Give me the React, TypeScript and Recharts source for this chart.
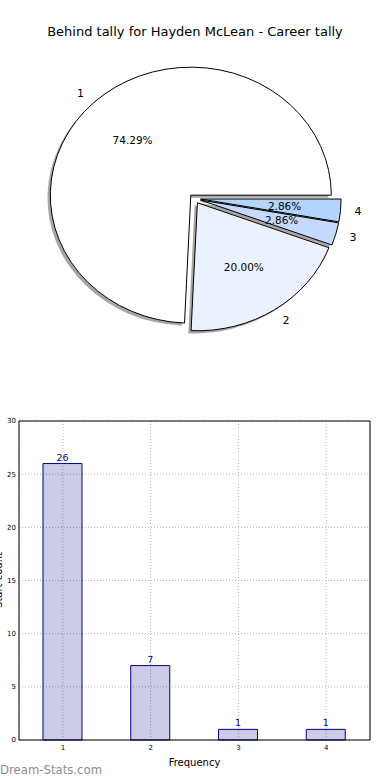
import React from "react";
import {
  PieChart,
  Pie,
  Cell,
  BarChart,
  Bar,
  XAxis,
  YAxis,
  CartesianGrid,
  LabelList,
} from "recharts";

// tally data
const categories = ["1", "2", "3", "4"];
const counts = [26, 7, 1, 1];
const yTicks = [0, 5, 10, 15, 20, 25, 30];

const titleText = "Behind tally for Hayden McLean - Career tally";
const xLabel = "Frequency";
const yLabel = "Start count";

// styling
const pieColors = ["#ffffff", "#ebf1ff", "#c6daff", "#b3d4fe"];
const explode = [0.036, 0.04, 0.045, 0.045];
const RY = 128 / 140.5; // pie is drawn squashed vertically
const RAD = Math.PI / 180;
const FONT = "DejaVu Sans, sans-serif";

const tableData = categories.map((name, i) => ({ name, value: counts[i] }));

const wedgePath = (cx: number, cy: number, r: number, a0: number, a1: number) => {
  const x1 = cx + r * Math.cos(a0 * RAD);
  const y1 = cy - r * RY * Math.sin(a0 * RAD);
  const x2 = cx + r * Math.cos(a1 * RAD);
  const y2 = cy - r * RY * Math.sin(a1 * RAD);
  const large = Math.abs(a1 - a0) > 180 ? 1 : 0;
  return `M${cx},${cy} L${x1},${y1} A${r},${r * RY} 0 ${large} 0 ${x2},${y2} Z`;
};

const sliceCenter = (props: any) => {
  const { cx, cy, outerRadius, startAngle, endAngle } = props;
  const name = String(props.payload?.name ?? props.name);
  const f = explode[categories.indexOf(name)] ?? 0;
  const mid = props.midAngle ?? (startAngle + endAngle) / 2;
  return {
    x: cx + f * outerRadius * Math.cos(mid * RAD),
    y: cy - f * outerRadius * RY * Math.sin(mid * RAD),
    mid,
  };
};

const makeWedge = (shadow: boolean) => (props: any) => {
  const c = sliceCenter(props);
  const ox = shadow ? c.x - 2.8 : c.x;
  const oy = shadow ? c.y + 2.6 : c.y;
  return (
    <path
      d={wedgePath(ox, oy, props.outerRadius, props.startAngle, props.endAngle)}
      fill={shadow ? "rgba(77,77,77,0.5)" : props.fill}
      stroke={shadow ? "none" : "#000"}
      strokeWidth={shadow ? 0 : 1}
    />
  );
};

const shadowShape = makeWedge(true);
const wedgeShape = makeWedge(false);

const renderPieLabel = (props: any) => {
  const c = sliceCenter(props);
  const r = props.outerRadius;
  const cos = Math.cos(c.mid * RAD);
  const sin = Math.sin(c.mid * RAD);
  const name = String(props.payload?.name ?? props.name);
  const pct = ((props.percent ?? 0) * 100).toFixed(2) + "%";
  return (
    <g>
      <text
        x={c.x + 1.1 * r * cos}
        y={c.y - 1.1 * r * RY * sin}
        textAnchor={cos > 0 ? "start" : "end"}
        dominantBaseline="central"
        fontSize={11}
        fontFamily={FONT}
        fill="#000"
      >
        {name}
      </text>
      <text
        x={c.x + 0.6 * r * cos}
        y={c.y - 0.6 * r * RY * sin}
        textAnchor="middle"
        dominantBaseline="central"
        fontSize={10.5}
        fontFamily={FONT}
        fill="#000"
      >
        {pct}
      </text>
    </g>
  );
};

const YLabel = () => (
  <text
    transform="translate(2,580) rotate(-90)"
    textAnchor="middle"
    fontSize={10}
    fontFamily={FONT}
    fill="#000"
  >
    {yLabel}
  </text>
);

export default function App() {
  return (
    <div
      style={{
        position: "absolute",
        left: 0,
        top: 0,
        width: 390,
        height: 780,
        background: "#fff",
        fontFamily: FONT,
      }}
    >
      <div
        style={{
          position: "absolute",
          top: 23.5,
          left: 0,
          width: 390,
          textAlign: "center",
          fontSize: 13,
          lineHeight: "16px",
          color: "#000",
        }}
      >
        {titleText}
      </div>

      <div style={{ position: "absolute", left: 0, top: 0 }}>
        <PieChart width={390} height={380} margin={{ top: 0, right: 0, bottom: 0, left: 0 }}>
          <Pie
            data={tableData}
            dataKey="value"
            nameKey="name"
            cx={194.3}
            cy={198.5}
            outerRadius={140.5}
            startAngle={0}
            endAngle={360}
            stroke="none"
            label={false}
            labelLine={false}
            shape={shadowShape}
            inactiveShape={shadowShape}
            activeShape={shadowShape}
            isAnimationActive={false}
          >
            {tableData.map((d, i) => (
              <Cell key={`s-${d.name}`} fill={pieColors[i]} />
            ))}
          </Pie>
          <Pie
            data={tableData}
            dataKey="value"
            nameKey="name"
            cx={194.3}
            cy={198.5}
            outerRadius={140.5}
            startAngle={0}
            endAngle={360}
            stroke="#000"
            label={renderPieLabel}
            labelLine={false}
            shape={wedgeShape}
            inactiveShape={wedgeShape}
            activeShape={wedgeShape}
            isAnimationActive={false}
          >
            {tableData.map((d, i) => (
              <Cell key={`w-${d.name}`} fill={pieColors[i]} />
            ))}
          </Pie>
        </PieChart>
      </div>

      <div style={{ position: "absolute", left: 0, top: 400 }}>
        <BarChart
          width={390}
          height={380}
          data={tableData}
          margin={{ top: 20, right: 19, bottom: 10, left: 0 }}
        >
          <CartesianGrid stroke="#b0b0b0" strokeDasharray="1 2" />
          <XAxis
            dataKey="name"
            height={30}
            tickSize={0}
            tickMargin={5}
            tickLine={false}
            axisLine={{ stroke: "#000" }}
            tick={{ fontSize: 7, fill: "#000", fontFamily: FONT }}
            label={{
              value: xLabel,
              position: "insideBottom",
              offset: 4,
              fontSize: 10,
              fill: "#000",
              fontFamily: FONT,
            }}
          />
          <XAxis
            xAxisId="top"
            dataKey="name"
            orientation="top"
            height={1}
            tick={false}
            tickLine={false}
            axisLine={{ stroke: "#000" }}
          />
          <YAxis
            domain={[0, 30]}
            ticks={yTicks}
            width={19}
            tickSize={0}
            tickMargin={3}
            tickLine={false}
            axisLine={{ stroke: "#000" }}
            tick={{ fontSize: 7, fill: "#000", fontFamily: FONT }}
          />
          <YAxis
            yAxisId="right"
            orientation="right"
            domain={[0, 30]}
            width={1}
            tick={false}
            tickLine={false}
            axisLine={{ stroke: "#000" }}
          />
          <Bar
            dataKey="value"
            fill="#000080"
            fillOpacity={0.2}
            stroke="#000080"
            strokeWidth={1}
            barSize={39}
            isAnimationActive={false}
          >
            <LabelList
              dataKey="value"
              position="top"
              offset={3}
              fill="#000080"
              fontSize={9.5}
              fontFamily={FONT}
            />
          </Bar>
        </BarChart>
      </div>

      <svg
        width={390}
        height={780}
        style={{ position: "absolute", left: 0, top: 0, pointerEvents: "none" }}
      >
        <YLabel />
      </svg>

      <div
        style={{
          position: "absolute",
          left: 0,
          top: 763,
          fontSize: 11.7,
          lineHeight: "14px",
          color: "#8c8c8c",
        }}
      >
        Dream-Stats.com
      </div>
    </div>
  );
}
